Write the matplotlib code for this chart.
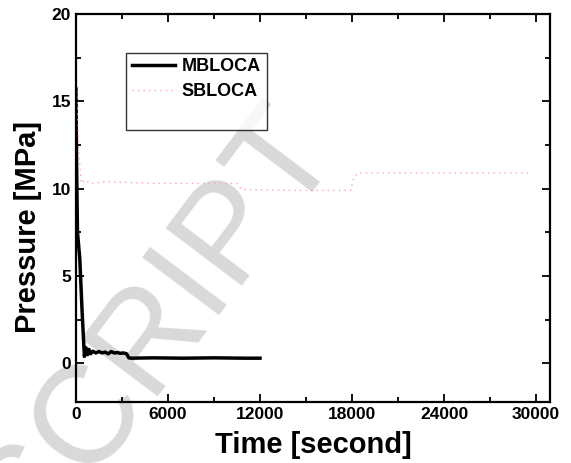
import matplotlib.pyplot as plt
from matplotlib.ticker import MultipleLocator

# MBLOCA pressure history
mbloca_time = [0, 40, 100, 250, 400, 550, 650, 750, 850, 950, 1100, 1300, 1500,
               1700, 1900, 2100, 2300, 2500, 2700, 2900, 3100, 3300, 3450,
               3600, 5000, 7000, 9000, 11000, 12000]
mbloca_pres = [15.7, 11.5, 7.5, 6.0, 3.0, 0.4, 0.9, 0.5, 0.8, 0.55, 0.7, 0.6, 0.68,
               0.6, 0.65, 0.55, 0.68, 0.6, 0.62, 0.58, 0.6, 0.55, 0.32,
               0.3, 0.32, 0.3, 0.32, 0.3, 0.3]

# SBLOCA pressure history
sbloca_time = [0, 80, 200, 350, 600, 900, 2000, 5000, 8000, 10500, 10800,
               14000, 17900, 18100, 18400, 24000, 29500]
sbloca_pres = [17.8, 15.0, 12.0, 10.3, 10.5, 10.3, 10.4, 10.3, 10.3, 10.3, 9.95,
               9.9, 9.9, 10.6, 10.9, 10.9, 10.9]

plt.rcParams['font.family'] = ['Liberation Sans', 'DejaVu Sans']
plt.rcParams['font.weight'] = 'bold'

fig = plt.figure(figsize=(5.71, 4.63), dpi=100)
ax = fig.add_axes([0.133, 0.132, 0.83, 0.838])
ax.set_facecolor('none')

# watermark
fig.text(0.60, 0.672, 'ACCEPTED MANUSCRIPT', fontsize=100, color='#d9d9d9',
         fontweight='normal', rotation=53, rotation_mode='anchor',
         ha='right', va='baseline', zorder=-1)

ax.plot(mbloca_time, mbloca_pres, color='black', lw=2.5, label='MBLOCA')
ax.plot(sbloca_time, sbloca_pres, color='#ffa0b2', lw=1.0, ls=(0, (1, 3)),
        label='SBLOCA')
ax.plot([], [], ' ', label=' ')

ax.set_xlim(0, 30900)
ax.set_ylim(-2.2, 20)
ax.xaxis.set_major_locator(MultipleLocator(6000))
ax.xaxis.set_minor_locator(MultipleLocator(3000))
ax.yaxis.set_major_locator(MultipleLocator(5))
ax.yaxis.set_minor_locator(MultipleLocator(2.5))
ax.tick_params(which='both', direction='in', top=True, right=True, width=1.3)
ax.tick_params(which='major', length=6, labelsize=12.5)
ax.tick_params(which='minor', length=3.5)
for lab in ax.get_xticklabels() + ax.get_yticklabels():
    lab.set_fontweight('bold')
for s in ax.spines.values():
    s.set_linewidth(1.6)

ax.set_xlabel('Time [second]', fontsize=21, fontweight='bold', labelpad=7)
ax.set_ylabel('Pressure [MPa]', fontsize=21, fontweight='bold')
ax.yaxis.set_label_coords(-0.072, 0.45)

leg = ax.legend(loc='upper left', bbox_to_anchor=(0.106, 0.9), borderaxespad=0,
                fancybox=False, edgecolor='black', handlelength=2.4,
                handletextpad=0.35, borderpad=0.32, labelspacing=0.42,
                prop={'weight': 'bold', 'size': 13})
leg.get_frame().set_linewidth(1.0)

fig.savefig('out.png', dpi=100)
